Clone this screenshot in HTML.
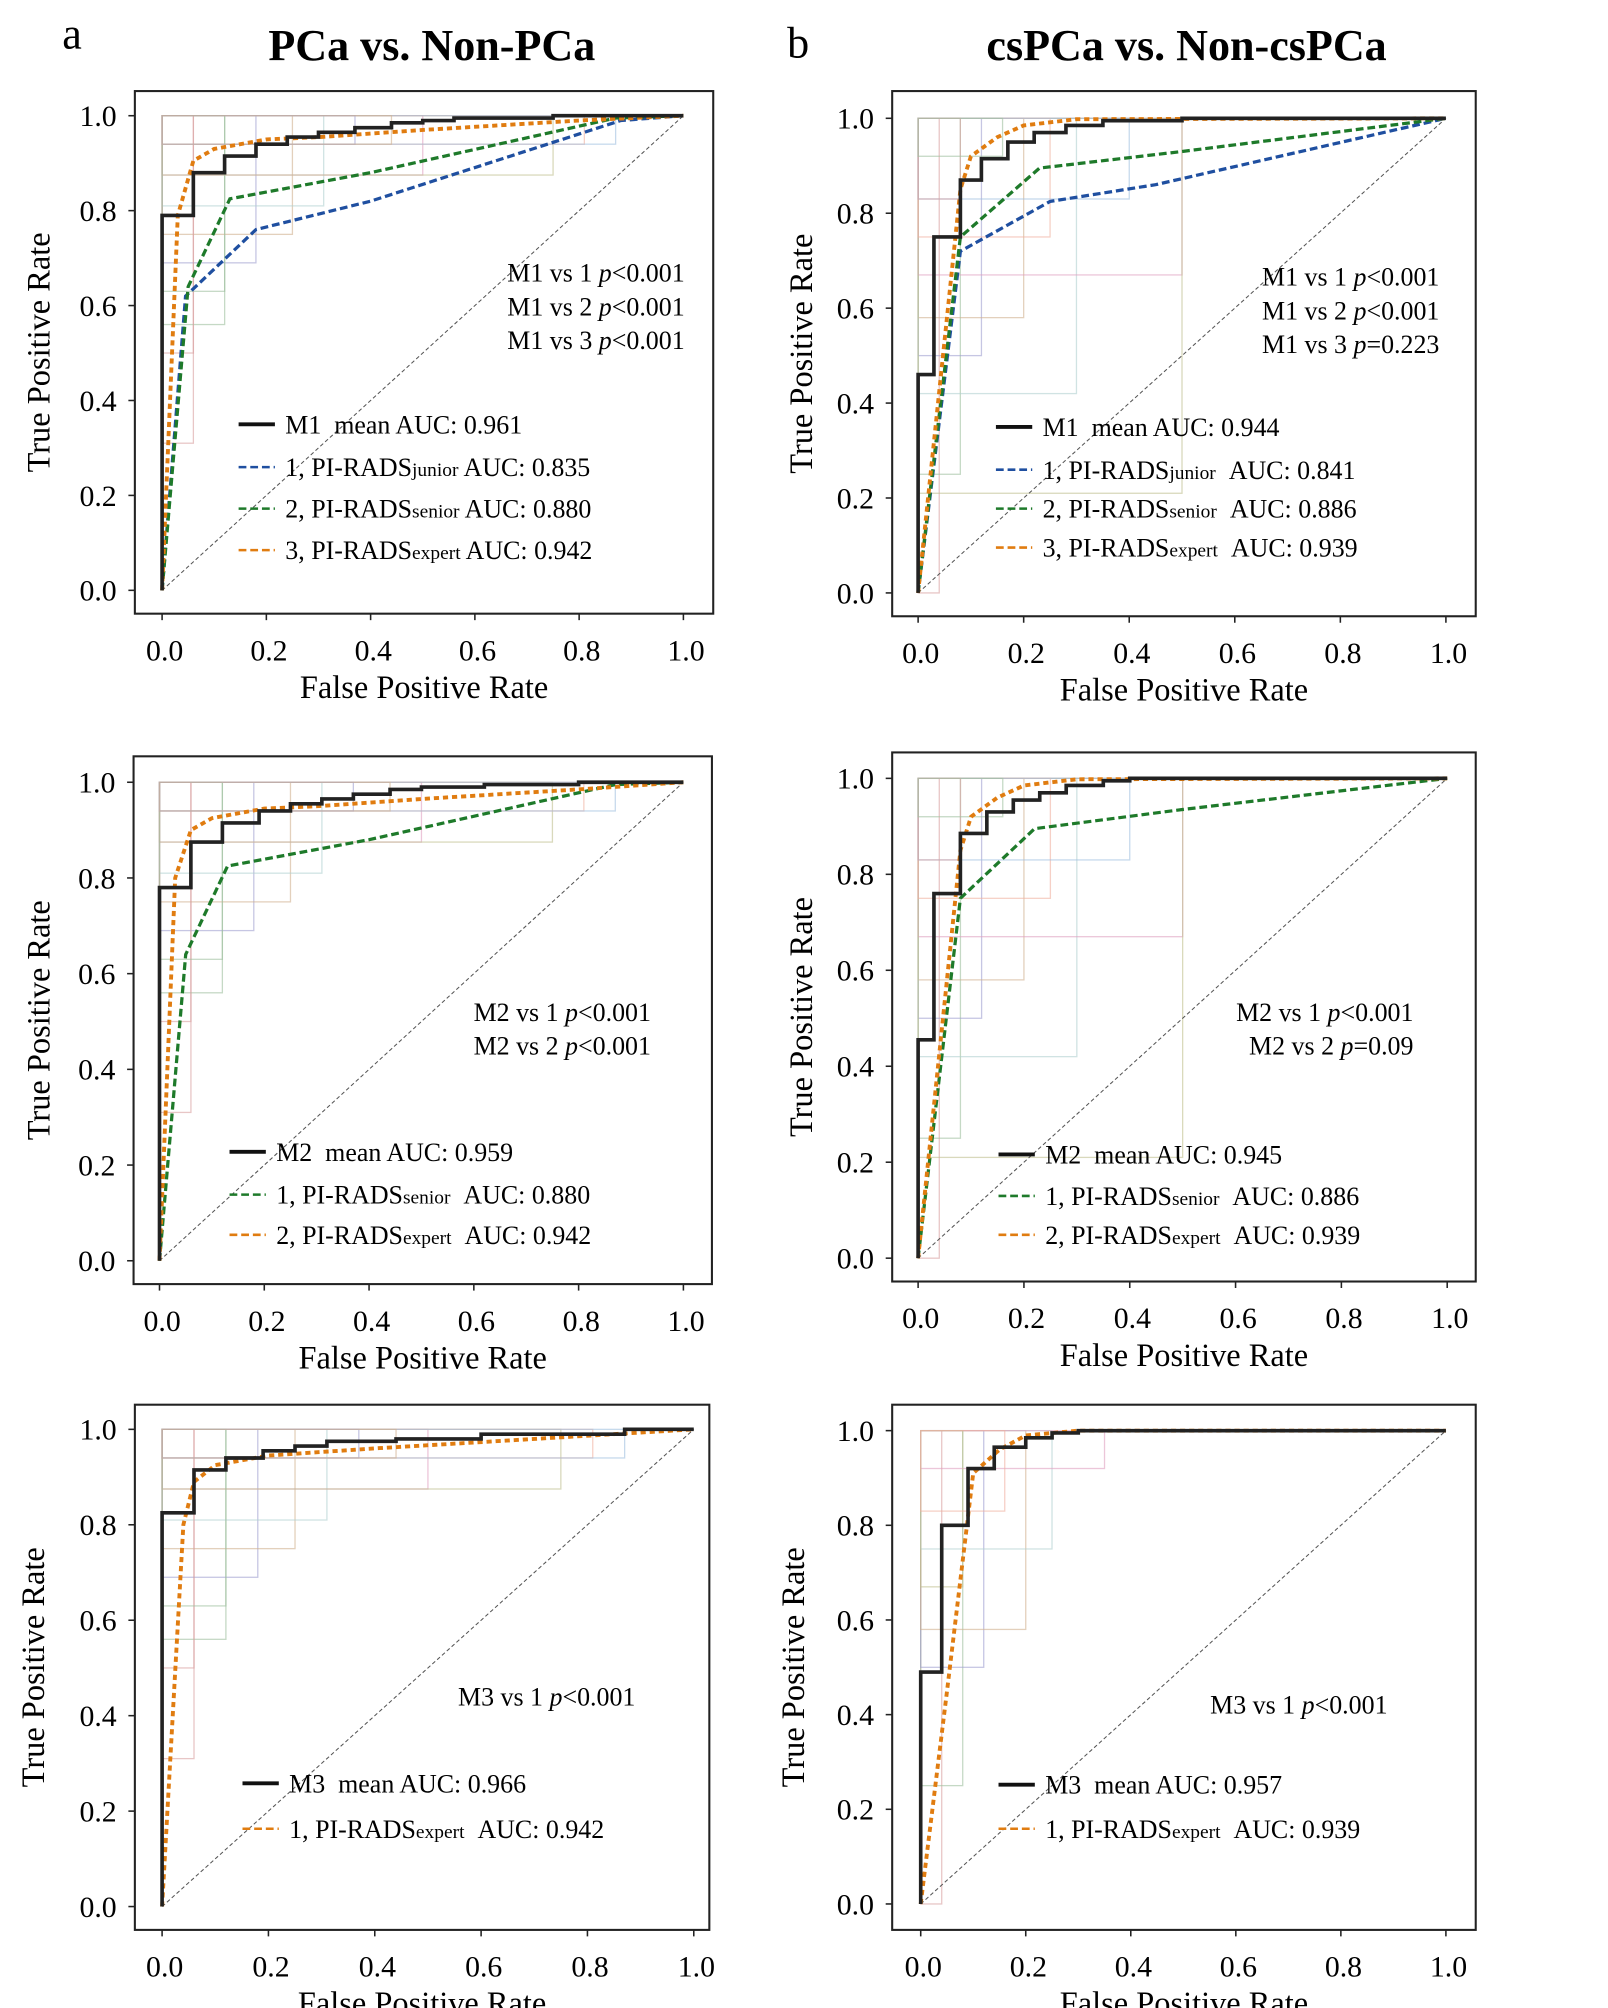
<!DOCTYPE html>
<html><head><meta charset="utf-8">
<style>
html,body{margin:0;padding:0;background:#fff;}
svg{display:block;font-family:"Liberation Serif",serif;}
</style></head>
<body>
<svg id="fig" width="1608" height="2008" viewBox="0 0 1240 1548" xmlns="http://www.w3.org/2000/svg">
<text x="48" y="37" font-size="34">a</text>
<text x="333" y="46" font-size="34" font-weight="bold" text-anchor="middle">PCa vs. Non-PCa</text>
<text x="607" y="44" font-size="34">b</text>
<text x="915" y="46" font-size="34" font-weight="bold" text-anchor="middle">csPCa vs. Non-csPCa</text>
</svg>
<script>
// ---- data ----
const ticks = [0, 0.2, 0.4, 0.6, 0.8, 1.0];
const tickLabels = ["0.0","0.2","0.4","0.6","0.8","1.0"];

const a1_m_x = [0,0,0.06,0.06,0.12,0.12,0.18,0.18,0.24,0.24,0.30,0.30,0.37,0.37,0.44,0.44,0.5,0.5,0.56,0.56,0.75,0.75,1];
const a1_m_y = [0,0.79,0.79,0.88,0.88,0.915,0.915,0.94,0.94,0.955,0.955,0.965,0.965,0.975,0.975,0.985,0.985,0.99,0.99,0.995,0.995,1,1];
const a1_b_x = [0,0.045,0.18,0.4,0.88,1];
const a1_b_y = [0,0.62,0.76,0.82,0.99,1];
const a1_g_x = [0,0.05,0.13,0.4,0.87,1];
const a1_g_y = [0,0.64,0.825,0.88,0.995,1];
const a1_o_x = [0,0.03,0.06,0.1,0.2,0.3,0.5,0.8,1];
const a1_o_y = [0,0.79,0.905,0.93,0.95,0.955,0.97,0.99,1];

const b1_m_x = [0,0,0.03,0.03,0.08,0.08,0.12,0.12,0.17,0.17,0.22,0.22,0.28,0.28,0.35,0.35,0.5,0.5,1];
const b1_m_y = [0,0.46,0.46,0.75,0.75,0.87,0.87,0.915,0.915,0.95,0.95,0.97,0.97,0.985,0.985,0.995,0.995,1,1];
const b1_b_x = [0,0.08,0.25,0.45,1];
const b1_b_y = [0,0.72,0.825,0.86,1];
const b1_g_x = [0,0.08,0.23,0.5,1];
const b1_g_y = [0,0.75,0.895,0.93,1];
const b1_o_x = [0,0.08,0.1,0.15,0.2,0.3,1];
const b1_o_y = [0,0.85,0.92,0.96,0.985,0.998,1];

const a2_m_x = [0,0,0.06,0.06,0.12,0.12,0.19,0.19,0.25,0.25,0.31,0.31,0.37,0.37,0.44,0.44,0.5,0.5,0.62,0.62,0.8,0.8,1];
const a2_m_y = [0,0.78,0.78,0.875,0.875,0.915,0.915,0.94,0.94,0.955,0.955,0.965,0.965,0.975,0.975,0.985,0.985,0.99,0.99,0.995,0.995,1,1];
const a2_g_x = [0,0.05,0.13,0.4,0.87,1];
const a2_g_y = [0,0.64,0.825,0.88,0.995,1];
const a2_o_x = [0,0.03,0.06,0.1,0.2,0.3,0.5,0.8,1];
const a2_o_y = [0,0.8,0.9,0.925,0.945,0.95,0.965,0.985,1];

const b2_m_x = [0,0,0.03,0.03,0.08,0.08,0.13,0.13,0.18,0.18,0.23,0.23,0.28,0.28,0.35,0.35,0.4,0.4,1];
const b2_m_y = [0,0.455,0.455,0.76,0.76,0.885,0.885,0.93,0.93,0.955,0.955,0.97,0.97,0.985,0.985,0.995,0.995,1,1];
const b2_g_x = [0,0.08,0.22,0.5,1];
const b2_g_y = [0,0.75,0.895,0.935,1];
const b2_o_x = [0,0.08,0.1,0.15,0.2,0.3,1];
const b2_o_y = [0,0.85,0.92,0.96,0.985,0.998,1];

const a3_m_x = [0,0,0.06,0.06,0.12,0.12,0.19,0.19,0.25,0.25,0.31,0.31,0.44,0.44,0.6,0.6,0.87,0.87,1];
const a3_m_y = [0,0.825,0.825,0.915,0.915,0.94,0.94,0.955,0.955,0.965,0.965,0.975,0.975,0.98,0.98,0.99,0.99,1,1];
const a3_o_x = [0,0.04,0.06,0.1,0.2,0.4,0.7,1];
const a3_o_y = [0,0.8,0.89,0.925,0.945,0.96,0.98,1];

const b3_m_x = [0,0,0.04,0.04,0.09,0.09,0.14,0.14,0.2,0.2,0.25,0.25,0.3,0.3,1];
const b3_m_y = [0,0.49,0.49,0.8,0.8,0.92,0.92,0.965,0.965,0.985,0.985,0.995,0.995,1,1];
const b3_o_x = [0,0.05,0.1,0.15,0.2,0.3,1];
const b3_o_y = [0,0.45,0.91,0.96,0.99,1,1];

// faint fold boxes: [xRight, yBottom]
const a_folds = [[0.06,0.31],[0.12,0.56],[0.18,0.69],[0.25,0.75],[0.31,0.81],[0.5,0.875],[0.75,0.875],[0.81,0.94],[0.87,0.94],[0.06,0.5],[0.12,0.63],[0.37,0.94],[0.44,0.94]];
const b_folds = [[0.04,0],[0.08,0.25],[0.12,0.5],[0.2,0.58],[0.3,0.42],[0.5,0.67],[0.5,0.21],[0.25,0.75],[0.4,0.83],[0.08,0.83],[0.16,0.92]];
const c_folds = [[0.04,0],[0.08,0.25],[0.12,0.5],[0.2,0.58],[0.25,0.75],[0.35,0.92],[0.08,0.67],[0.16,0.83]];

const NS="http://www.w3.org/2000/svg";
const svg=document.getElementById('fig');
function mk(tag,attrs,parent){const e=document.createElementNS(NS,tag);for(const k in attrs)e.setAttribute(k,attrs[k]);(parent||svg).appendChild(e);return e;}

const foldColors=["#d9a0a0","#9fbf9f","#a0a0d0","#d0b090","#b0d0d0","#e0a0c0","#c0c090","#f0b0a0","#a0c0e0"];

function panel(p){
  const g=mk('g',{});
  
  
  const sx=v=>p.x0+v*(p.x1-p.x0);
  const sy=v=>p.y0+v*(p.y1-p.y0);
  p.folds.forEach((f,i)=>{
    const r=mk('rect',{x:sx(0),y:sy(1),width:sx(f[0])-sx(0),height:sy(f[1])-sy(1),fill:'none',stroke:foldColors[i%foldColors.length],'stroke-width':1,opacity:0.6},g);
    
    
  });
  const d=mk('line',{x1:sx(0),y1:sy(0),x2:sx(1),y2:sy(1),stroke:'#555','stroke-width':0.8,'stroke-dasharray':'3,2'},g);
  
  
  const b=mk('rect',{x:p.bx0,y:p.by0,width:p.bx1-p.bx0,height:p.by1-p.by0,fill:'none',stroke:'#222','stroke-width':1.6},g);
  
  
  ticks.forEach((t,i)=>{
    mk('line',{x1:sx(t),y1:p.by1,x2:sx(t),y2:p.by1+5,stroke:'#222','stroke-width':1.2},g);
    const tx=mk('text',{x:sx(t)+2,y:p.by1+36,'font-size':23,'text-anchor':'middle'},g);
    tx.textContent=tickLabels[i];
    
    
    mk('line',{x1:p.bx0,y1:sy(t),x2:p.bx0-5,y2:sy(t),stroke:'#222','stroke-width':1.2},g);
    const ty=mk('text',{x:p.bx0-14,y:sy(t)+8,'font-size':23,'text-anchor':'end'},g);
    ty.textContent=tickLabels[i];
    
    
  });
  const xl=mk('text',{x:(p.bx0+p.bx1)/2,y:p.by1+65,'font-size':25,'text-anchor':'middle'},g);
  xl.textContent='False Positive Rate';
  
  
  const yc=(p.by0+p.by1)/2;
  const yl=mk('text',{x:p.ylx,y:yc,'font-size':25,'text-anchor':'middle',transform:`rotate(-90 ${p.ylx} ${yc})`},g);
  yl.textContent='True Positive Rate';
  
  
  p.series.forEach(s=>{
    const pts=s.x.map((v,i)=>sx(v).toFixed(1)+','+sy(s.y[i]).toFixed(1)).join(' ');
    const attrs={points:pts,fill:'none',stroke:s.c,'stroke-width':s.w||2.5};
    if(s.dash)attrs['stroke-dasharray']=s.dash;
    const pl=mk('polyline',attrs,g);
    
    
  });
  p.ann.forEach((a,i)=>{
    const t=mk('text',{x:p.annX,y:p.annY+i*26,'font-size':20,'text-anchor':'end'},g);
    t.innerHTML=a;
    
    
  });
  p.leg.forEach((l,i)=>{
    const y=p.legY+l.dy;
    const la={x1:p.legX,y1:y,x2:p.legX+28,y2:y,stroke:l.c,'stroke-width':l.dash?2:3};
    if(l.dash)la['stroke-dasharray']=l.dash;
    const ln=mk('line',la,g);
    
    
    const t=mk('text',{x:p.legX+36,y:y+7,'font-size':20},g);
    t.innerHTML=l.t;
    
    
  });
}
const BL='#1f4fa0',GR='#1e7a2a',OR='#e07c10';
const sub=(s)=>`<tspan font-size="15">${s}</tspan>`;
const SP='&#160;&#160;';
panel({name:'panel-a1',bx0:104,bx1:550,by0:70,by1:473,x0:125,x1:527,y0:455,y1:89,ylx:38,folds:a_folds,
 series:[{n:'series-pirads-junior',x:a1_b_x,y:a1_b_y,c:BL,dash:'6,3'},{n:'series-pirads-senior',x:a1_g_x,y:a1_g_y,c:GR,dash:'6,3'},{n:'series-pirads-expert',x:a1_o_x,y:a1_o_y,c:OR,dash:'4,3',w:3},{n:'series-m1',x:a1_m_x,y:a1_m_y,c:'#222',w:2.8}],
 ann:['M1 vs 1 <tspan font-style="italic">p</tspan>&lt;0.001','M1 vs 2 <tspan font-style="italic">p</tspan>&lt;0.001','M1 vs 3 <tspan font-style="italic">p</tspan>&lt;0.001'],annX:528,annY:217,
 legX:184,legY:327,leg:[{dy:0,c:'#111',t:'M1'+SP+'mean AUC: 0.961'},{dy:33,c:BL,dash:'6,3',t:'1, PI-RADS'+sub('junior')+' AUC: 0.835'},{dy:65,c:GR,dash:'6,3',t:'2, PI-RADS'+sub('senior')+' AUC: 0.880'},{dy:97,c:OR,dash:'6,3',t:'3, PI-RADS'+sub('expert')+' AUC: 0.942'}]});
panel({name:'panel-b1',bx0:688,bx1:1138,by0:70,by1:475,x0:708,x1:1115,y0:457,y1:91,ylx:626,folds:b_folds,
 series:[{n:'series-pirads-junior',x:b1_b_x,y:b1_b_y,c:BL,dash:'6,3'},{n:'series-pirads-senior',x:b1_g_x,y:b1_g_y,c:GR,dash:'6,3'},{n:'series-pirads-expert',x:b1_o_x,y:b1_o_y,c:OR,dash:'4,3',w:3},{n:'series-m1',x:b1_m_x,y:b1_m_y,c:'#222',w:2.8}],
 ann:['M1 vs 1 <tspan font-style="italic">p</tspan>&lt;0.001','M1 vs 2 <tspan font-style="italic">p</tspan>&lt;0.001','M1 vs 3 <tspan font-style="italic">p</tspan>=0.223'],annX:1110,annY:220,
 legX:768,legY:329,leg:[{dy:0,c:'#111',t:'M1'+SP+'mean AUC: 0.944'},{dy:33,c:BL,dash:'6,3',t:'1, PI-RADS'+sub('junior')+SP+'AUC: 0.841'},{dy:63,c:GR,dash:'6,3',t:'2, PI-RADS'+sub('senior')+SP+'AUC: 0.886'},{dy:93,c:OR,dash:'6,3',t:'3, PI-RADS'+sub('expert')+SP+'AUC: 0.939'}]});
panel({name:'panel-a2',bx0:103,bx1:549,by0:583,by1:990,x0:123,x1:527,y0:972,y1:603,ylx:38,folds:a_folds,
 series:[{n:'series-pirads-senior',x:a2_g_x,y:a2_g_y,c:GR,dash:'6,3'},{n:'series-pirads-expert',x:a2_o_x,y:a2_o_y,c:OR,dash:'4,3',w:3},{n:'series-m2',x:a2_m_x,y:a2_m_y,c:'#222',w:2.8}],
 ann:['M2 vs 1 <tspan font-style="italic">p</tspan>&lt;0.001','M2 vs 2 <tspan font-style="italic">p</tspan>&lt;0.001'],annX:502,annY:787,
 legX:177,legY:888,leg:[{dy:0,c:'#111',t:'M2'+SP+'mean AUC: 0.959'},{dy:33,c:GR,dash:'6,3',t:'1, PI-RADS'+sub('senior')+SP+'AUC: 0.880'},{dy:64,c:OR,dash:'6,3',t:'2, PI-RADS'+sub('expert')+SP+'AUC: 0.942'}]});
panel({name:'panel-b2',bx0:688,bx1:1138,by0:580,by1:988,x0:708,x1:1116,y0:970,y1:600,ylx:626,folds:b_folds,
 series:[{n:'series-pirads-senior',x:b2_g_x,y:b2_g_y,c:GR,dash:'6,3'},{n:'series-pirads-expert',x:b2_o_x,y:b2_o_y,c:OR,dash:'4,3',w:3},{n:'series-m2',x:b2_m_x,y:b2_m_y,c:'#222',w:2.8}],
 ann:['M2 vs 1 <tspan font-style="italic">p</tspan>&lt;0.001','M2 vs 2 <tspan font-style="italic">p</tspan>=0.09'],annX:1090,annY:787,
 legX:770,legY:890,leg:[{dy:0,c:'#111',t:'M2'+SP+'mean AUC: 0.945'},{dy:32,c:GR,dash:'6,3',t:'1, PI-RADS'+sub('senior')+SP+'AUC: 0.886'},{dy:62,c:OR,dash:'6,3',t:'2, PI-RADS'+sub('expert')+SP+'AUC: 0.939'}]});
panel({name:'panel-a3',bx0:104,bx1:547,by0:1083,by1:1488,x0:125,x1:535,y0:1470,y1:1102,ylx:34,folds:a_folds,
 series:[{n:'series-pirads-expert',x:a3_o_x,y:a3_o_y,c:OR,dash:'4,3',w:3},{n:'series-m3',x:a3_m_x,y:a3_m_y,c:'#222',w:2.8}],
 ann:['M3 vs 1 <tspan font-style="italic">p</tspan>&lt;0.001'],annX:490,annY:1315,
 legX:187,legY:1375,leg:[{dy:0,c:'#111',t:'M3'+SP+'mean AUC: 0.966'},{dy:35,c:OR,dash:'6,3',t:'1, PI-RADS'+sub('expert')+SP+'AUC: 0.942'}]});
panel({name:'panel-b3',bx0:688,bx1:1138,by0:1083,by1:1488,x0:710,x1:1115,y0:1468,y1:1103,ylx:620,folds:c_folds,
 series:[{n:'series-pirads-expert',x:b3_o_x,y:b3_o_y,c:OR,dash:'4,3',w:3},{n:'series-m3',x:b3_m_x,y:b3_m_y,c:'#222',w:2.8}],
 ann:['M3 vs 1 <tspan font-style="italic">p</tspan>&lt;0.001'],annX:1070,annY:1321,
 legX:770,legY:1376,leg:[{dy:0,c:'#111',t:'M3'+SP+'mean AUC: 0.957'},{dy:34,c:OR,dash:'6,3',t:'1, PI-RADS'+sub('expert')+SP+'AUC: 0.939'}]});
</script>
</body></html>
